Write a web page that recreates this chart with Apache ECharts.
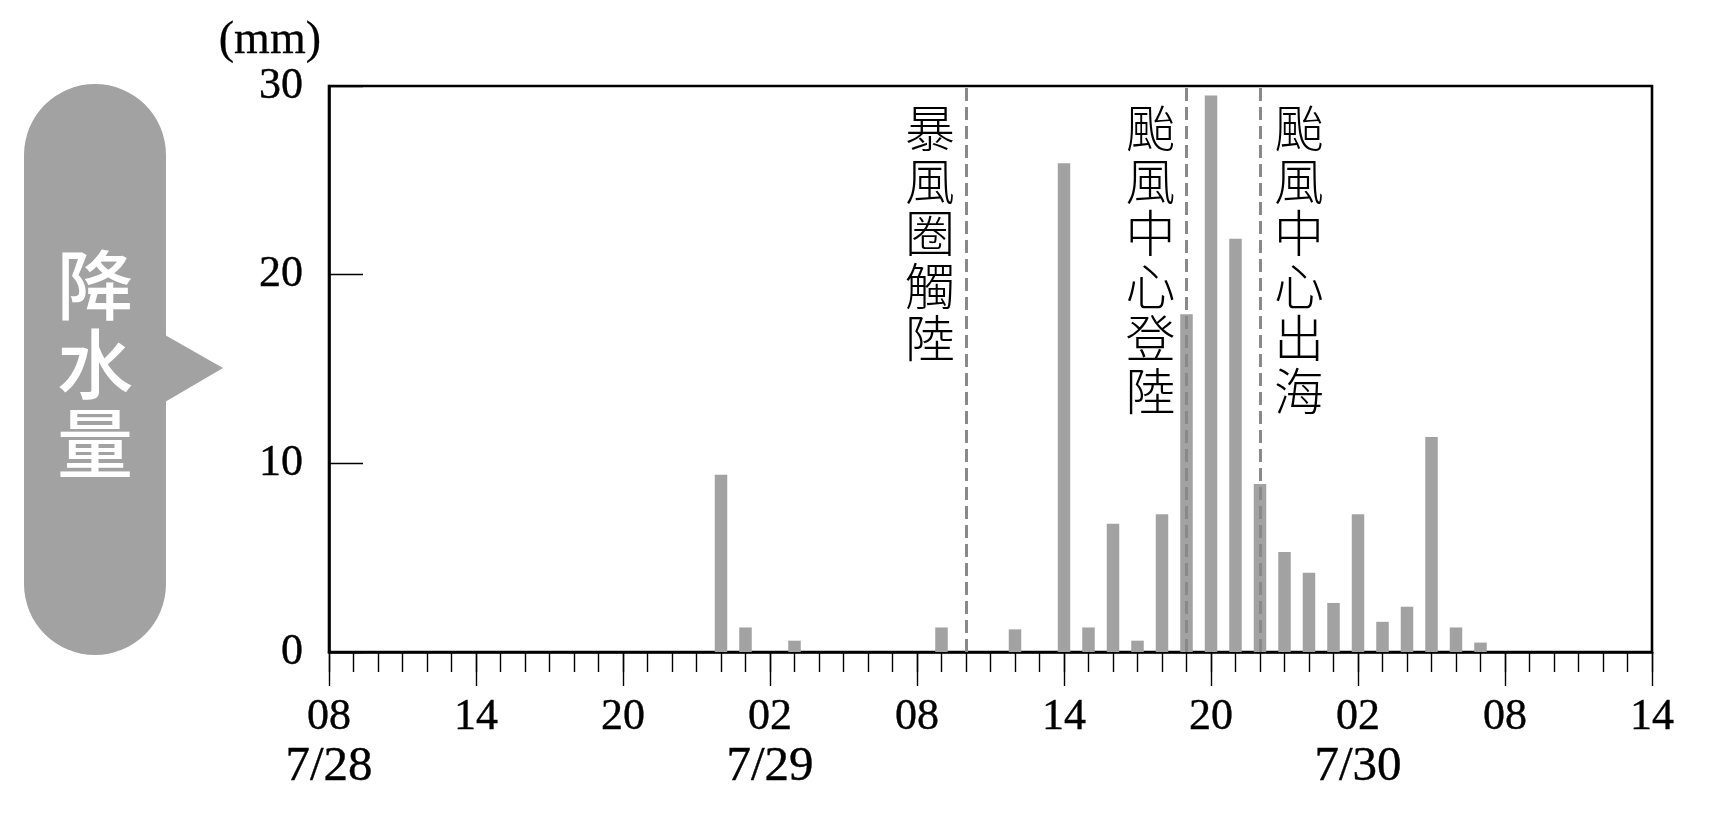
<!DOCTYPE html>
<html>
<head>
<meta charset="utf-8">
<script src="https://cdn.jsdelivr.net/npm/echarts@6/dist/echarts.min.js"></script>
<style>
  html, body { margin: 0; padding: 0; background: #ffffff; }
  #chart { width: 1711px; height: 827px; }
</style>
</head>
<body>
<div id="chart"></div>
<script>
// Hourly categories from 7/28 08:00 to 7/30 14:00
const hourLabels = [
  '08','09','10','11','12','13','14','15','16','17','18','19','20','21','22','23',
  '00','01','02','03','04','05','06','07','08','09','10','11','12','13','14','15','16','17','18','19','20','21','22','23',
  '00','01','02','03','04','05','06','07','08','09','10','11','12','13','14'
];
// Hourly rainfall (mm)
const rainfall = [
  0, 0, 0, 0, 0, 0, 0, 0, 0, 0, 0, 0, 0, 0, 0, 0,
  9.4, 1.3, 0, 0.6, 0, 0, 0, 0, 0, 1.3, 0, 0, 1.2, 0, 25.9, 1.3, 6.8, 0.6, 7.3, 17.9, 29.5, 21.9, 8.9, 5.3,
  4.2, 2.6, 7.3, 1.6, 2.4, 11.4, 1.3, 0.5, 0, 0, 0, 0, 0, 0, 0
];
// Date labels under specific category indices
const dateLabelIndex = [0, 18, 42];
const dateLabels = ['7/28', '7/29', '7/30'];
// Event markers (category index) and labels
const eventIndex = [26, 35, 38];
const eventLabels = ['暴風圈觸陸', '颱風中心登陸', '颱風中心出海'];
const eventSide = ['left', 'left', 'right'];
const sideLabel = '降水量';
const yUnit = '(mm)';

const SERIF = '"Liberation Serif", "Times New Roman", serif';
const CJK = '"Noto Sans CJK TC", "Noto Sans CJK SC", sans-serif';

const chart = echarts.init(document.getElementById('chart'), null, { renderer: 'canvas' });

const option = {
  animation: false,
  backgroundColor: '#ffffff',
  grid: {
    left: 329, right: 59, top: 86, height: 566,
    show: true, borderColor: '#000', borderWidth: 2.6, backgroundColor: 'transparent'
  },
  xAxis: [
    {
      type: 'category', data: hourLabels, boundaryGap: false, position: 'bottom',
      axisLine: { show: true, lineStyle: { color: '#000', width: 2.6 } },
      axisTick: { show: true, interval: 0, length: 20, lineStyle: { color: '#000', width: 1.4 } },
      axisLabel: { show: false },
      splitLine: { show: false }
    },
    {
      type: 'category', data: hourLabels, boundaryGap: false, position: 'bottom',
      axisLine: { show: false },
      axisTick: { show: true, interval: 5, length: 34, lineStyle: { color: '#000', width: 1.4 } },
      axisLabel: {
        show: true, interval: 5, margin: 40,
        formatter: function (value, index) {
          const k = dateLabelIndex.indexOf(index);
          if (k >= 0) return '{t|' + value + '}\n{d|' + dateLabels[k] + '}';
          return '{t|' + value + '}';
        },
        rich: {
          t: { fontFamily: SERIF, fontSize: 44, color: '#000', lineHeight: 50, textBorderColor: '#000', textBorderWidth: 0.4 },
          d: { fontFamily: SERIF, fontSize: 49, color: '#000', lineHeight: 50, textBorderColor: '#000', textBorderWidth: 0.4 }
        },
        fontFamily: SERIF, fontSize: 44, color: '#000'
      },
      splitLine: { show: false }
    }
  ],
  yAxis: {
    type: 'value', min: 0, max: 30, interval: 10,
    name: yUnit, nameLocation: 'end', nameGap: 13,
    nameTextStyle: { fontFamily: SERIF, fontSize: 46, color: '#000', align: 'right', padding: [0, 8, 0, 0],
      textBorderColor: '#000', textBorderWidth: 0.3 },
    axisLine: { show: true, lineStyle: { color: '#000', width: 2.6 } },
    axisTick: { show: true, inside: true, length: 34, lineStyle: { color: '#000', width: 1.4 } },
    axisLabel: { fontFamily: SERIF, fontSize: 44, color: '#000', margin: 26, textBorderColor: '#000', textBorderWidth: 0.4 },
    splitLine: { show: false }
  },
  series: [
    {
      type: 'bar', xAxisIndex: 0, yAxisIndex: 0,
      data: rainfall, barWidth: 12.5,
      itemStyle: { color: '#a2a2a2' },
      markLine: {
        silent: true, symbol: ['none', 'none'],
        label: { show: false },
        lineStyle: { color: '#898989', type: [13, 6], width: 3 },
        data: eventIndex.map(function (i) { return { xAxis: i }; })
      }
    }
  ]
};
chart.setOption(option);

// Decorations and event annotations
const graphics = [
  { type: 'rect', shape: { x: 24, y: 84, width: 142, height: 571, r: 71 }, style: { fill: '#a2a2a2' }, z: 1 },
  { type: 'polygon', shape: { points: [[165, 335], [223, 368], [165, 402]] }, style: { fill: '#a2a2a2' }, z: 1 },
  {
    type: 'text', x: 95, y: 246, z: 2,
    style: { text: sideLabel.split('').join('\n'), fontFamily: CJK, fontSize: 76, fontWeight: 500,
      lineHeight: 79, fill: '#ffffff', align: 'center', verticalAlign: 'top' }
  }
];
eventIndex.forEach(function (idx, k) {
  const px = chart.convertToPixel({ xAxisIndex: 0 }, idx);
  const dx = eventSide[k] === 'left' ? -36 : 39;
  graphics.push({
    type: 'text', x: px + dx, y: 102, z: 5,
    style: { text: eventLabels[k].split('').join('\n'), fontFamily: CJK, fontSize: 50, fontWeight: 300,
      lineHeight: 52.5, fill: '#000', align: 'center', verticalAlign: 'top' }
  });
});
chart.setOption({ graphic: graphics });
</script>
</body>
</html>
